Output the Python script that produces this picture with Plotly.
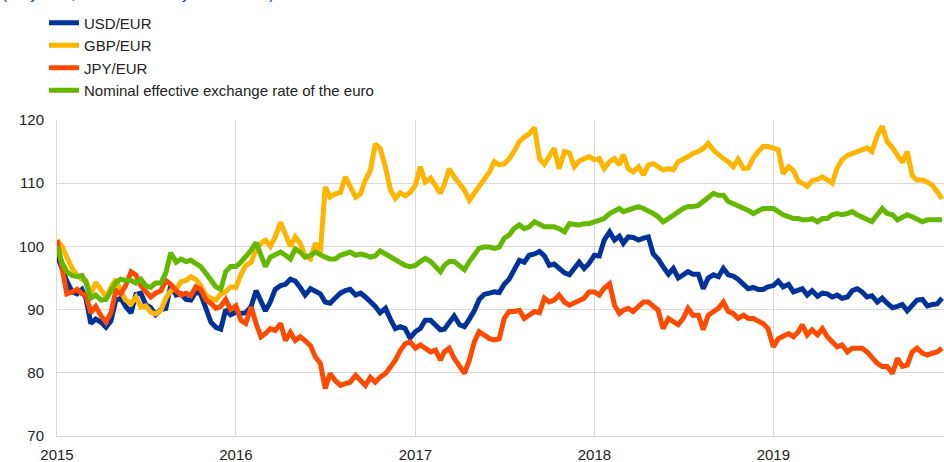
import plotly.graph_objects as go

# ---- data (index values) ----
years = [2015, 2016, 2017, 2018, 2019]
days_in_month = [1, 11, 21]
n_points = 179
dates = [f"{y}-{m:02d}-{d:02d}" for y in years for m in range(1, 13) for d in days_in_month][:n_points]

usd_eur = [
    98.6, 96.5, 94.5, 92.8, 92.5, 93.2, 91.8, 87.8, 88.5, 88.0, 87.2, 88.2,
    91.5, 91.8, 90.5, 89.5, 92.4, 92.6, 90.8, 90.3, 89.2, 90.0, 90.2, 93.8,
    92.3, 92.5, 91.6, 91.5, 92.8, 92.5, 90.0, 88.0, 87.2, 86.9, 90.0, 89.2,
    89.6, 89.4, 89.5, 90.5, 93.0, 91.5, 89.8, 91.2, 93.2, 93.8, 94.0, 94.8,
    94.5, 93.5, 92.3, 93.3, 93.0, 92.5, 91.2, 91.0, 91.8, 92.6, 93.0, 93.2,
    92.3, 92.6, 92.0, 91.3, 90.5, 89.5, 90.2, 88.5, 87.0, 87.3, 87.0, 85.5,
    86.5, 87.0, 88.3, 88.3, 87.4, 86.8, 86.9, 87.8, 89.0, 87.6, 87.3, 88.5,
    89.8, 91.6, 92.4, 92.6, 92.8, 92.7, 94.0, 94.8, 96.3, 97.8, 97.5, 98.6,
    98.8, 99.2, 98.5, 97.0, 97.2, 96.5, 95.8, 95.5, 96.5, 97.5, 96.5, 97.3,
    98.6, 98.5, 101.0, 102.3, 101.0, 101.6, 100.5, 101.5, 101.4, 101.0, 101.3, 101.5,
    98.8, 98.0, 96.8, 95.6, 96.5, 95.0, 95.5, 96.0, 95.6, 95.6, 93.3, 95.0,
    95.5, 95.2, 96.5, 95.5, 95.3, 94.8, 94.0, 93.3, 93.5, 93.2, 93.2, 93.6,
    93.8, 94.5, 93.6, 94.0, 92.8, 93.0, 93.3, 92.3, 93.0, 92.1, 92.6, 92.5,
    92.0, 92.3, 91.8, 92.0, 93.0, 93.3, 92.8, 92.0, 92.2, 91.2, 91.8, 91.0,
    90.3, 90.5, 90.8, 89.8, 90.6, 91.5, 91.6, 90.6, 90.8, 90.9, 91.8,
]

gbp_eur = [
    101.0, 100.0, 98.3, 96.5, 95.4, 94.8, 94.6, 92.4, 94.3, 93.0, 92.0, 93.5,
    94.8, 92.8, 91.5, 90.9, 92.0, 90.4, 90.6, 89.6, 89.3, 89.9, 91.8, 93.0,
    93.2, 94.4, 94.6, 95.2, 94.8, 93.8, 92.2, 91.8, 91.5, 92.5, 92.8, 93.6,
    93.5, 95.5, 97.0, 97.5, 99.5, 100.5, 101.0, 100.0, 101.5, 103.8, 102.0, 100.0,
    101.5, 100.5, 98.5, 98.0, 100.5, 99.0, 109.4, 107.8, 108.3, 108.5, 111.0, 109.5,
    107.8, 108.3, 110.5, 112.0, 116.2, 115.5, 112.5, 109.0, 107.6, 108.5, 108.0, 108.5,
    109.7, 112.6, 110.2, 110.8, 109.5, 108.4, 109.8, 112.3, 111.0, 110.0, 108.9, 107.3,
    108.4, 109.5, 110.8, 111.8, 113.4, 112.9, 113.1, 113.8, 115.0, 116.6, 117.3, 117.8,
    118.8, 113.9, 113.0, 114.2, 115.5, 112.3, 115.0, 114.8, 112.6, 113.5, 113.9, 114.2,
    113.7, 113.9, 112.3, 113.4, 113.9, 112.9, 114.5, 112.3, 111.8, 112.6, 111.3, 112.9,
    113.1, 112.6, 112.1, 112.3, 112.1, 113.4, 113.7, 114.2, 114.7, 115.0, 115.5, 116.3,
    115.2, 114.5, 113.9, 113.4, 112.6, 113.8, 112.3, 112.4, 114.0, 115.0, 115.8, 115.8,
    115.6, 115.3, 111.5, 112.6, 112.0, 110.3, 110.0, 109.5, 110.4, 110.6, 111.0, 110.6,
    110.0, 112.4, 113.7, 114.4, 114.7, 115.0, 115.2, 115.6, 115.0, 117.6, 119.0, 116.6,
    115.6, 114.3, 113.3, 115.0, 111.2, 110.5, 110.5, 110.2, 109.7, 108.7, 107.5,
]

jpy_eur = [
    101.0, 97.0, 92.5, 92.8, 93.2, 92.5, 92.3, 89.5, 90.5, 89.0, 88.0, 89.5,
    93.0, 92.5, 93.8, 96.0, 95.5, 93.8, 92.8, 92.0, 92.6, 93.0, 94.6, 94.0,
    93.0, 92.3, 92.6, 92.2, 93.6, 93.2, 91.5, 91.0, 90.2, 90.5, 91.6, 90.0,
    90.6, 88.3, 87.8, 90.4, 87.8, 85.7, 86.2, 87.0, 86.7, 87.8, 85.1, 86.4,
    85.1, 85.7, 85.1, 84.3, 82.5, 81.5, 77.5, 79.9, 78.8, 78.0, 78.3, 78.5,
    79.6, 78.8, 78.0, 79.3, 78.5, 79.3, 79.9, 80.9, 82.0, 83.5, 84.6, 84.9,
    83.9, 84.4, 83.9, 83.3, 83.6, 82.0, 83.3, 83.9, 82.3, 81.2, 79.9, 82.0,
    84.9, 86.5, 86.0, 85.4, 85.2, 85.4, 88.6, 89.7, 89.7, 89.9, 88.6, 89.1,
    89.7, 89.5, 91.8, 91.2, 91.5, 92.3, 91.2, 90.7, 91.0, 91.5, 91.8, 92.8,
    92.8, 92.3, 93.4, 94.1, 90.7, 89.4, 89.9, 90.2, 89.7, 90.5, 91.2, 91.2,
    90.5, 89.9, 87.0, 88.6, 88.1, 87.6, 88.6, 90.2, 89.1, 89.1, 86.8, 89.1,
    89.7, 90.2, 91.2, 89.7, 89.4, 88.6, 89.1, 88.6, 88.6, 88.3, 87.8, 87.0,
    84.1, 85.4, 85.7, 86.2, 85.7, 86.5, 87.6, 86.0, 86.8, 86.0, 87.0, 85.7,
    84.9, 84.1, 84.4, 83.3, 83.9, 83.9, 83.9, 83.3, 82.3, 81.5, 81.0, 81.0,
    79.9, 82.3, 81.0, 81.2, 83.3, 83.9, 83.1, 82.8, 83.1, 83.3, 83.9,
]

neer = [
    100.0, 97.5, 96.0, 95.4, 95.2, 95.4, 94.3, 91.8, 92.3, 91.5, 91.6, 92.8,
    94.3, 94.8, 94.6, 94.6, 94.2, 94.8, 93.8, 93.5, 94.2, 94.2, 95.8, 99.0,
    97.5, 98.0, 97.6, 97.8, 97.3, 96.8, 95.7, 94.6, 93.6, 93.2, 96.0, 96.8,
    96.8, 97.5, 98.3, 99.4, 100.6, 98.3, 96.8, 98.3, 98.6, 99.1, 98.6, 98.0,
    99.6, 99.1, 98.3, 98.6, 99.1, 98.6, 98.3, 98.0, 98.0, 98.6, 98.8, 99.1,
    98.6, 98.8, 98.6, 98.3, 98.5, 99.3, 98.8, 98.3, 97.8, 97.5, 97.0, 96.8,
    97.0, 97.6, 98.1, 97.6, 96.8, 96.0, 97.0, 97.6, 97.6, 97.0, 96.3, 97.6,
    98.6, 99.7, 99.9, 99.9, 99.7, 99.9, 101.3, 101.8, 102.8, 103.4, 102.8, 103.1,
    103.9, 103.4, 103.1, 103.1, 103.1, 102.8, 102.3, 103.6, 103.4, 103.4, 103.6, 103.6,
    103.9, 104.2, 104.4, 105.2, 105.5, 106.0, 105.5, 105.7, 106.0, 106.3, 106.0, 105.7,
    105.2, 104.7, 103.9, 104.4, 105.0, 105.5, 106.0, 106.3, 106.3, 106.5, 107.1, 107.9,
    108.4, 108.1, 108.1, 107.1, 106.8, 106.5, 106.0, 105.7, 105.2, 105.7, 106.0, 106.0,
    106.0, 105.5, 105.0, 104.7, 104.4, 104.4, 104.2, 104.2, 104.4, 103.9, 104.4, 104.4,
    105.0, 105.2, 105.0, 105.2, 105.5, 105.0, 104.7, 104.4, 103.9, 105.0, 106.0, 105.2,
    105.0, 104.2, 104.7, 105.0, 104.7, 104.4, 103.9, 104.2, 104.2, 104.2, 104.2,
]

series_names = ["USD/EUR", "GBP/EUR", "JPY/EUR", "Nominal effective exchange rate of the euro"]
series_values = [usd_eur, gbp_eur, jpy_eur, neer]
series_colors = ["#003299", "#FFB400", "#FF4B00", "#65B800"]

y_ticks = [70, 80, 90, 100, 110, 120]
x_ticks = ["2015-01-01", "2016-01-01", "2017-01-01", "2018-01-01", "2019-01-01"]
x_tick_labels = ["2015", "2016", "2017", "2018", "2019"]
subtitle = "(daily data; index: 1 January 2015 = 100)"

FONT = "Liberation Sans, Arial, sans-serif"
GRID = "#d9d9d9"

fig = go.Figure()
for name, vals, col in zip(series_names, series_values, series_colors):
    fig.add_trace(go.Scatter(
        x=dates, y=vals, name=name, mode="lines",
        line=dict(color=col, width=5),
    ))

fig.update_layout(
    width=944, height=462,
    margin=dict(l=57, r=0, t=120, b=26, autoexpand=False),
    paper_bgcolor="white", plot_bgcolor="white",
    font=dict(family=FONT, size=15, color="#222222"),
    showlegend=True,
    legend=dict(
        xref="container", yref="container",
        x=0.0466, xanchor="left", y=0.986, yanchor="top",
        font=dict(family=FONT, size=15, color="#222222"),
        itemwidth=30, bgcolor="rgba(0,0,0,0)", tracegroupgap=0,
    ),
    annotations=[dict(
        text=subtitle, xref="paper", yref="paper",
        x=-0.0643, xanchor="left", y=1.368, yanchor="bottom",
        showarrow=False, font=dict(family=FONT, size=15, color="#003299"),
    )],
)

fig.update_xaxes(
    type="date", range=["2015-01-01", "2019-12-15"],
    tickvals=x_ticks, ticktext=x_tick_labels, automargin=False,
    showgrid=True, gridcolor=GRID, gridwidth=1,
    showline=True, linecolor=GRID, linewidth=1, zeroline=False,
    ticks="outside", ticklen=5, tickcolor="rgba(0,0,0,0)",
    tickfont=dict(family=FONT, size=15, color="#222222"),
)
fig.update_yaxes(
    range=[70, 120], tickvals=y_ticks, automargin=False,
    showgrid=True, gridcolor=GRID, gridwidth=1,
    showline=True, linecolor=GRID, linewidth=1, zeroline=False,
    ticks="outside", ticklen=9, tickcolor="rgba(0,0,0,0)",
    tickfont=dict(family=FONT, size=15, color="#222222"),
)

fig.write_html(
    "out.html",
    config={"displayModeBar": False},
    post_script="document.body.style.margin='0px';",
)
